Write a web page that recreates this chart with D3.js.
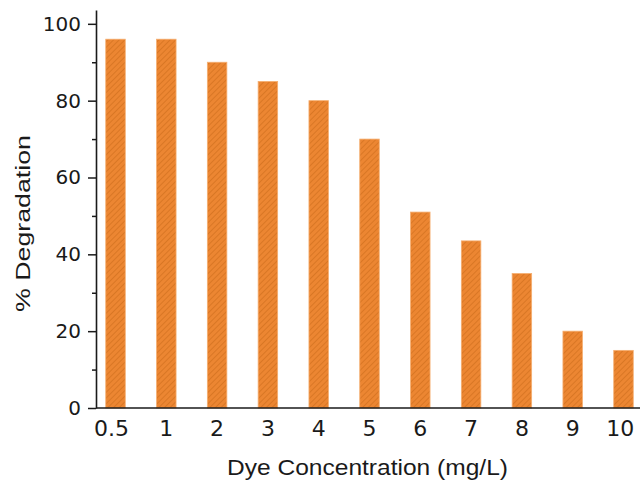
<!DOCTYPE html>
<html>
<head>
<meta charset="utf-8">
<script src="https://cdn.jsdelivr.net/npm/d3@7"></script>
<style>
  html, body { margin: 0; padding: 0; background: #fff; }
  svg { display: block; }
</style>
</head>
<body>
<svg id="chart" width="640" height="482"></svg>
<script>
// ---- data ----
const categories = ["0.5", "1", "2", "3", "4", "5", "6", "7", "8", "9", "10"];
const degradation = [96, 96, 90, 85, 80, 70, 51, 43.5, 35, 20, 15];
const yMajorTicks = [0, 20, 40, 60, 80, 100];
const yMinorTicks = [10, 30, 50, 70, 90];
const xTitle = "Dye Concentration (mg/L)";
const yTitle = "% Degradation";

// ---- layout ----
const svg = d3.select("#chart");
const x0 = 96, x1 = 643, yBottom = 408, yTop = 10;

const x = d3.scaleBand().domain(categories).range([x0, x1])
  .paddingInner(0.616).paddingOuter(0.192);
const y = d3.scaleLinear().domain([0, 103.6]).range([yBottom, yTop]);

// hatch pattern
const defs = svg.append("defs");
const pat = defs.append("pattern")
  .attr("id", "hatch").attr("patternUnits", "userSpaceOnUse")
  .attr("width", 4).attr("height", 4)
  .attr("patternTransform", "rotate(45)");
pat.append("rect").attr("width", 4).attr("height", 4).attr("fill", "#EC8632");
pat.append("line").attr("x1", 0).attr("y1", 0).attr("x2", 0).attr("y2", 4)
  .attr("stroke", "#D2701F").attr("stroke-width", 1.4);

// bars
svg.append("g").selectAll("rect").data(degradation).join("rect")
  .attr("x", (d, i) => x(categories[i]))
  .attr("y", d => y(d))
  .attr("width", x.bandwidth())
  .attr("height", d => y(0) - y(d))
  .attr("fill", "url(#hatch)")
  .attr("stroke", "#F5AE70").attr("stroke-width", 0.8);

// y axis: minor ticks
svg.append("g").attr("transform", `translate(${x0},0)`)
  .call(d3.axisLeft(y).tickValues(yMinorTicks).tickSize(4).tickSizeOuter(0).tickFormat(""))
  .call(g => g.select(".domain").remove())
  .call(g => g.selectAll("line").attr("stroke", "#1a1a1a").attr("stroke-width", 1.5));

// y axis: major ticks
svg.append("g").attr("transform", `translate(${x0},0)`)
  .call(d3.axisLeft(y).tickValues(yMajorTicks).tickSize(8).tickSizeOuter(0).tickPadding(7))
  .call(g => g.select(".domain").attr("stroke", "#1a1a1a").attr("stroke-width", 1.6))
  .call(g => g.selectAll("line").attr("stroke", "#1a1a1a").attr("stroke-width", 1.5))
  .call(g => g.selectAll("text")
    .attr("font-family", "DejaVu Sans").attr("font-size", 20).attr("fill", "#1a1a1a"));

// x axis
svg.append("g").attr("transform", `translate(0,${yBottom})`)
  .call(d3.axisBottom(x).tickSize(0).tickSizeOuter(0).tickPadding(12))
  .call(g => g.select(".domain").attr("stroke", "#1a1a1a").attr("stroke-width", 1.6)
    .attr("d", `M${x0},0H640`))
  .call(g => g.selectAll("text")
    .attr("font-family", "DejaVu Sans").attr("font-size", 22).attr("fill", "#1a1a1a")
    .attr("dx", (d, i) => i === 0 ? "-0.18em" : i === categories.length - 1 ? "-0.15em" : 0));

// axis titles
svg.append("text")
  .attr("x", 367.5).attr("y", 475)
  .attr("text-anchor", "middle")
  .attr("font-family", "Liberation Sans, Arial, sans-serif")
  .attr("font-size", 22).attr("fill", "#1a1a1a")
  .attr("textLength", 281).attr("lengthAdjust", "spacingAndGlyphs")
  .text(xTitle);

svg.append("text")
  .attr("transform", "translate(30,223.5) rotate(-90)")
  .attr("text-anchor", "middle")
  .attr("font-family", "Liberation Sans, Arial, sans-serif")
  .attr("font-size", 20).attr("fill", "#1a1a1a")
  .attr("textLength", 177).attr("lengthAdjust", "spacingAndGlyphs")
  .text(yTitle);
</script>
</body>
</html>
